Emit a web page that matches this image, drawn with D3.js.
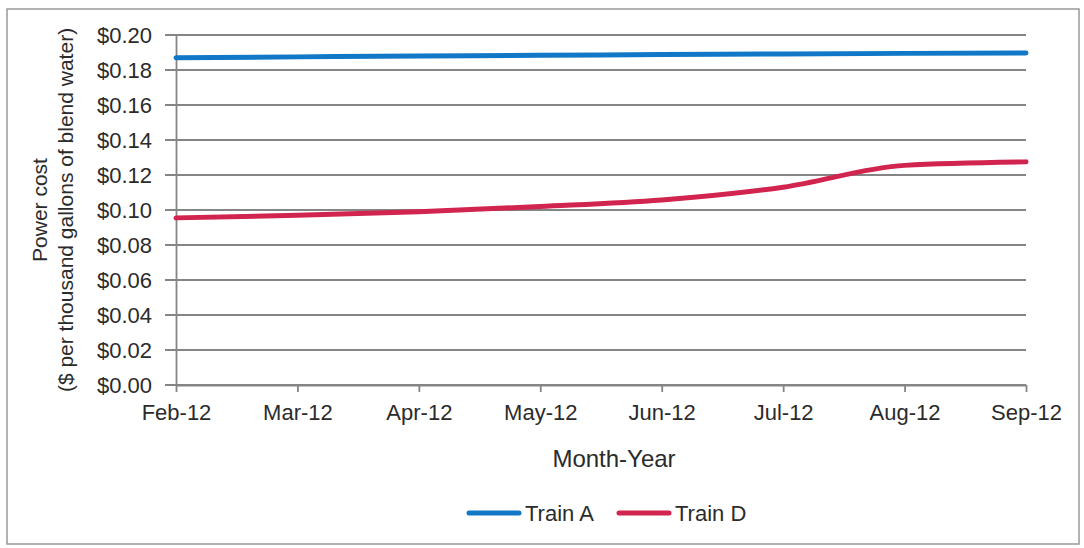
<!DOCTYPE html>
<html>
<head>
<meta charset="utf-8">
<script src="https://cdn.jsdelivr.net/npm/d3@7"></script>
<style>
  body { margin: 0; background: #fff; }
  text { font-family: "Liberation Sans", Arial, sans-serif; fill: #2b2b2b; }
</style>
</head>
<body>
<script>
// data
const months = ['Feb-12','Mar-12','Apr-12','May-12','Jun-12','Jul-12','Aug-12','Sep-12'];
const trainA = [0.1870, 0.1875, 0.1880, 0.1884, 0.1888, 0.1892, 0.1895, 0.1897];
const trainD = [0.0955, 0.0970, 0.0990, 0.1020, 0.1057, 0.1130, 0.1255, 0.1275];
const yTicks = [0, 0.02, 0.04, 0.06, 0.08, 0.10, 0.12, 0.14, 0.16, 0.18, 0.20];

const width = 1084, height = 548;
const plotLeft = 176, plotRight = 1026, plotTop = 35, plotBottom = 385;

const svg = d3.select('body').append('svg')
  .attr('width', width)
  .attr('height', height);

// outer frame
svg.append('rect')
  .attr('x', 7).attr('y', 9)
  .attr('width', 1072).attr('height', 535)
  .attr('fill', 'none').attr('stroke', '#999').attr('stroke-width', 1.5);

const x = d3.scalePoint().domain(months).range([plotLeft, plotRight]);
const y = d3.scaleLinear().domain([0, 0.2]).range([plotBottom, plotTop]);

// grid lines
svg.append('g')
  .selectAll('line')
  .data(yTicks)
  .enter().append('line')
  .attr('x1', plotLeft - 11).attr('x2', plotRight)
  .attr('y1', d => y(d)).attr('y2', d => y(d))
  .attr('stroke', '#858585').attr('stroke-width', 1.8);

// y axis
const yAxis = svg.append('g')
  .attr('transform', `translate(${plotLeft},0)`)
  .call(d3.axisLeft(y).tickValues(yTicks).tickSize(0).tickPadding(24)
    .tickFormat(d => '$' + d3.format('.2f')(d)));
yAxis.select('.domain').attr('stroke', '#858585').attr('stroke-width', 1.8);
yAxis.selectAll('text').style('font-size', '22px').attr('fill', '#2b2b2b');

// x axis
const xAxis = svg.append('g')
  .attr('transform', `translate(0,${plotBottom})`)
  .call(d3.axisBottom(x).tickSize(7).tickSizeOuter(0).tickPadding(12));
xAxis.select('.domain').attr('stroke', '#858585').attr('stroke-width', 1.8);
xAxis.selectAll('line').attr('stroke', '#858585').attr('stroke-width', 1.8);
xAxis.selectAll('text').style('font-size', '22px').attr('fill', '#2b2b2b');

// lines
const line = d3.line()
  .x((d, i) => x(months[i]))
  .y(d => y(d))
  .curve(d3.curveMonotoneX);

svg.append('path').datum(trainA)
  .attr('d', line)
  .attr('fill', 'none').attr('stroke', '#1078c6')
  .attr('stroke-width', 5).attr('stroke-linecap', 'round');

svg.append('path').datum(trainD)
  .attr('d', line)
  .attr('fill', 'none').attr('stroke', '#d1244f')
  .attr('stroke-width', 5).attr('stroke-linecap', 'round');

// axis titles
svg.append('text')
  .attr('x', 614).attr('y', 467)
  .attr('text-anchor', 'middle')
  .style('font-size', '24px')
  .text('Month-Year');

const yt = svg.append('text')
  .attr('transform', 'translate(0,210) rotate(-90)')
  .attr('text-anchor', 'middle')
  .style('font-size', '21px');
yt.append('tspan').attr('x', 0).attr('y', 47).text('Power cost');
yt.append('tspan').attr('x', 0).attr('y', 73).text('($ per thousand gallons of blend water)');

// legend
const legend = [
  {name: 'Train A', color: '#1078c6', x: 469},
  {name: 'Train D', color: '#d1244f', x: 619}
];
const lg = svg.append('g').selectAll('g')
  .data(legend)
  .enter().append('g')
  .attr('transform', d => `translate(${d.x},513)`);
lg.append('line')
  .attr('x1', 0).attr('x2', 50)
  .attr('stroke', d => d.color).attr('stroke-width', 5).attr('stroke-linecap', 'round');
lg.append('text')
  .attr('x', 56).attr('y', 8)
  .style('font-size', '22px')
  .text(d => d.name);
</script>
</body>
</html>
